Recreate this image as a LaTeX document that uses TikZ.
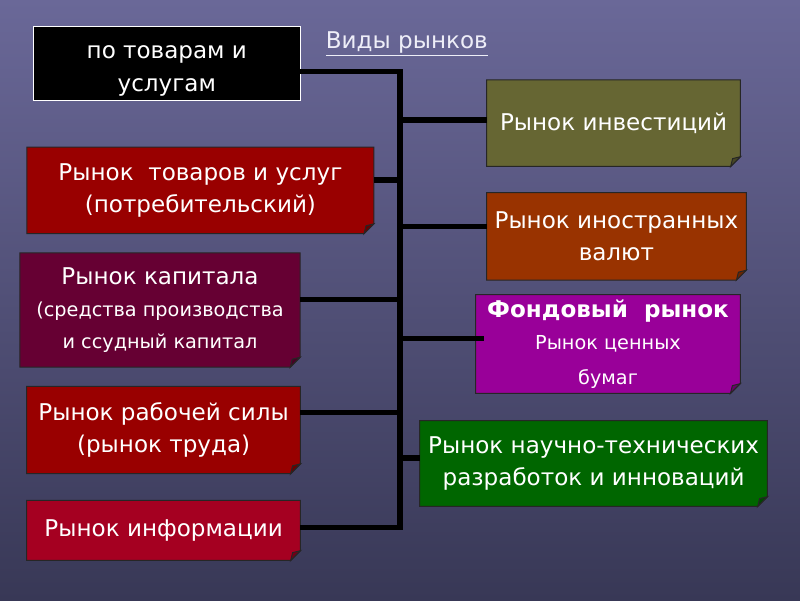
\documentclass[tikz,border=0pt]{standalone}
\usepackage{fontspec}
\setmainfont{DejaVu Sans}
\usepackage{tikz}
\usetikzlibrary{positioning, calc, backgrounds}
\definecolor{bgtop}{RGB}{106,104,152}
\definecolor{bgbot}{RGB}{56,56,86}
\definecolor{goodsred}{RGB}{153,0,0}
\definecolor{capwine}{RGB}{102,0,51}
\definecolor{infored}{RGB}{165,0,33}
\definecolor{investolive}{RGB}{102,102,51}
\definecolor{fxbrown}{RGB}{153,51,0}
\definecolor{stockpurple}{RGB}{153,0,153}
\definecolor{innovgreen}{RGB}{0,102,0}
\definecolor{titlewhite}{RGB}{238,238,248}
\pgfdeclarelayer{bg}
\pgfsetlayers{bg,background,main}
\tikzset{
  mkt/.style={rectangle, text=white, align=center, inner sep=0pt, font=\fontsize{16.4}{23}\selectfont},
  title/.style={text=titlewhite, font=\fontsize{16.4}{18}\selectfont},
  sheetline/.style={draw=black!85, line width=0.7pt},
  conn/.style={line width=3.6pt, black}
}
\newcommand{\sm}[1]{{\fontsize{13.7}{19}\selectfont #1}}
\def\fold{7pt}
% paper sheet with folded corner behind a node
\newcommand{\sheet}[2]{%
  \begin{scope}[on background layer]
    \filldraw[fill=#2, sheetline] (#1.north west) -- (#1.north east)
      -- ([yshift=\fold]#1.south east) -- ([xshift=-\fold]#1.south east)
      -- (#1.south west) -- cycle;
    \filldraw[fill=#2!70!black, sheetline] ([yshift=\fold]#1.south east)
      -- ([xshift=-\fold]#1.south east)
      -- ([xshift=-0.8*\fold, yshift=0.8*\fold]#1.south east) -- cycle;
  \end{scope}}

\begin{document}
\begin{tikzpicture}
  \useasboundingbox (0,0) rectangle (20,15);
  \begin{pgfonlayer}{bg}
    \shade[top color=bgtop, bottom color=bgbot] (0,0) rectangle (20,15);
  \end{pgfonlayer}

  \node[title] (title) at (10.17,13.9) {\underline{Виды рынков}};

  \node[mkt, minimum width=6.66cm, minimum height=1.84cm] (kind) at (4.17,13.41) {\rule{0pt}{19.5pt}по товарам и\\услугам};
  \begin{scope}[on background layer]
    \filldraw[fill=black, draw=white, line width=0.6pt] (kind.north west) rectangle (kind.south east);
  \end{scope}

  % left column
  \node[mkt, minimum width=8.66cm, minimum height=2.15cm] (goods) at (5.01,10.24) {Рынок\ \ товаров и услуг\\(потребительский)};
  \node[mkt, minimum width=6.99cm, minimum height=2.84cm] (capital) at (4.0,7.25) {Рынок капитала\\\sm{(средства производства}\\\sm{и ссудный капитал}};
  \node[mkt, minimum width=6.83cm, minimum height=2.17cm] (labour) at (4.09,4.25) {Рынок рабочей силы\\(рынок труда)};
  \node[mkt, minimum width=6.83cm, minimum height=1.49cm] (info) at (4.09,1.74) {Рынок информации};

  % right column
  \node[mkt, minimum width=6.33cm, minimum height=2.15cm] (invest) at (15.34,11.92) {Рынок инвестиций};
  \node[mkt, minimum width=6.48cm, minimum height=2.17cm] (forex) at (15.41,9.09) {Рынок иностранных\\валют};
  \node[mkt, minimum width=6.6cm, minimum height=2.46cm] (stock) at (15.2,6.4) {\textbf{Фондовый\ \ рынок}\\\sm{Рынок ценных}\\[2pt]\sm{бумаг}};
  \node[mkt, minimum width=8.68cm, minimum height=2.13cm] (innov) at (14.84,3.41) {Рынок научно-технических\\разработок и инноваций};

  \sheet{goods}{goodsred}
  \sheet{capital}{capwine}
  \sheet{labour}{goodsred}
  \sheet{info}{infored}
  \sheet{invest}{investolive}
  \sheet{forex}{fxbrown}
  \sheet{stock}{stockpurple}
  \sheet{innov}{innovgreen}

  % spine and branches
  \coordinate (sTop) at (10,13.21);
  \coordinate (sInvest) at (10,12.0);
  \coordinate (sGoods) at (10,10.5);
  \coordinate (sForex) at (10,9.33);
  \coordinate (sCapital) at (10,7.51);
  \coordinate (sStock) at (10,6.53);
  \coordinate (sLabour) at (10,4.69);
  \coordinate (sInnov) at (10,3.55);
  \coordinate (sInfo) at (10,1.815);

  \draw[conn] (sTop -| kind.east) -- (sTop) -- (sInfo) -- (sInfo -| info.east);
  \draw[conn] (sInvest) -- (sInvest -| invest.west);
  \draw[conn] (sGoods) -- (sGoods -| goods.east);
  \draw[conn] (sForex) -- (sForex -| forex.west);
  \draw[conn] (sCapital) -- (sCapital -| capital.east);
  \draw[conn] (sStock) -- ([xshift=6pt]sStock -| stock.west);
  \draw[conn] (sLabour) -- (sLabour -| labour.east);
  \draw[conn] (sInnov) -- (sInnov -| innov.west);
\end{tikzpicture}
\end{document}
